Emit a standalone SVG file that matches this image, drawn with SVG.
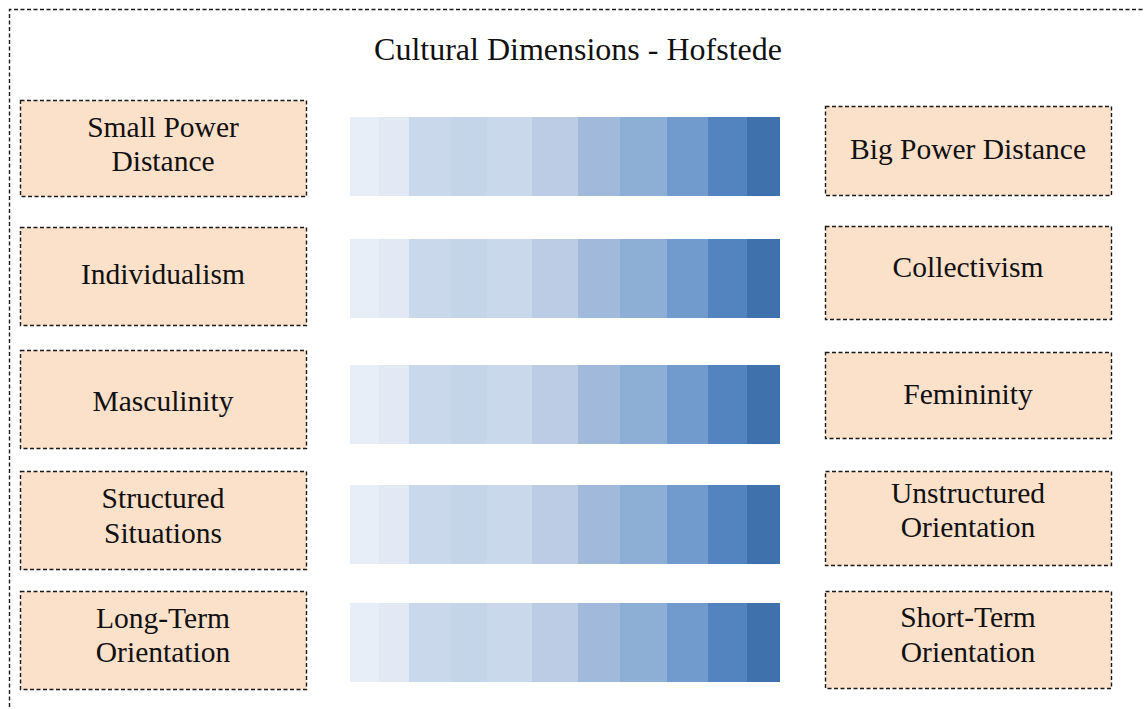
<svg xmlns="http://www.w3.org/2000/svg" width="1144" height="709" viewBox="0 0 1144 709">
<style>
.box{fill:#FBE0CA;stroke:#1a1a1a;stroke-width:1.4;stroke-dasharray:4 2.5}
.frame{fill:none;stroke:#1a1a1a;stroke-width:1.4;stroke-dasharray:4 2.5}
text{font-family:"Liberation Serif","Times New Roman",serif;font-size:29.5px;fill:#111;text-anchor:middle}
.title{font-size:32px}
.c1{fill:#E7EEF7}.c2{fill:#E2E9F5}.c3{fill:#C9D8EB}.c4{fill:#C4D5EA}.c5{fill:#CAD8EB}.c6{fill:#BBCCE4}.c7{fill:#A1BADC}.c8{fill:#8DAED5}.c9{fill:#729BCD}.c10{fill:#5384BF}.c11{fill:#3F71AD}
</style>
<defs>
<g id="bar">
<rect class="c1" x="350" y="0" width="29" height="79"/>
<rect class="c2" x="379" y="0" width="30" height="79"/>
<rect class="c3" x="409" y="0" width="42" height="79"/>
<rect class="c4" x="451" y="0" width="36" height="79"/>
<rect class="c5" x="487" y="0" width="45" height="79"/>
<rect class="c6" x="532" y="0" width="46" height="79"/>
<rect class="c7" x="578" y="0" width="42" height="79"/>
<rect class="c8" x="620" y="0" width="47" height="79"/>
<rect class="c9" x="667" y="0" width="41" height="79"/>
<rect class="c10" x="708" y="0" width="39" height="79"/>
<rect class="c11" x="747" y="0" width="33" height="79"/>
</g>
</defs>
<rect width="1144" height="709" fill="#fff"/>
<path class="frame" d="M9.5,720 V9.5 H1150"/>
<text class="title" x="578" y="60">Cultural Dimensions - Hofstede</text>

<g id="bars">
<use href="#bar" y="117"/>
<use href="#bar" y="239"/>
<use href="#bar" y="365"/>
<use href="#bar" y="485"/>
<use href="#bar" y="603"/>
</g>

<g id="small-power">
<rect class="box" x="20.5" y="100.5" width="286" height="96"/>
<text x="163" y="137">Small Power</text>
<text x="163" y="171">Distance</text>
</g>
<g id="big-power">
<rect class="box" x="825.5" y="106.5" width="286" height="89"/>
<text x="968" y="159">Big Power Distance</text>
</g>
<g id="individualism">
<rect class="box" x="20.5" y="227.5" width="286" height="98"/>
<text x="163" y="284">Individualism</text>
</g>
<g id="collectivism">
<rect class="box" x="825.5" y="226.5" width="286" height="93"/>
<text x="968" y="277">Collectivism</text>
</g>
<g id="masculinity">
<rect class="box" x="20.5" y="350.5" width="286" height="98"/>
<text x="163" y="411">Masculinity</text>
</g>
<g id="femininity">
<rect class="box" x="825.5" y="352.5" width="286" height="86"/>
<text x="968" y="404">Femininity</text>
</g>
<g id="structured">
<rect class="box" x="20.5" y="471.5" width="286" height="98"/>
<text x="163" y="508">Structured</text>
<text x="163" y="543">Situations</text>
</g>
<g id="unstructured">
<rect class="box" x="825.5" y="471.5" width="286" height="94"/>
<text x="968" y="503">Unstructured</text>
<text x="968" y="537">Orientation</text>
</g>
<g id="long-term">
<rect class="box" x="20.5" y="591.5" width="286" height="98"/>
<text x="163" y="628">Long-Term</text>
<text x="163" y="662">Orientation</text>
</g>
<g id="short-term">
<rect class="box" x="825.5" y="591.5" width="286" height="97"/>
<text x="968" y="627">Short-Term</text>
<text x="968" y="662">Orientation</text>
</g>
<g id="connectors"/>
</svg>
